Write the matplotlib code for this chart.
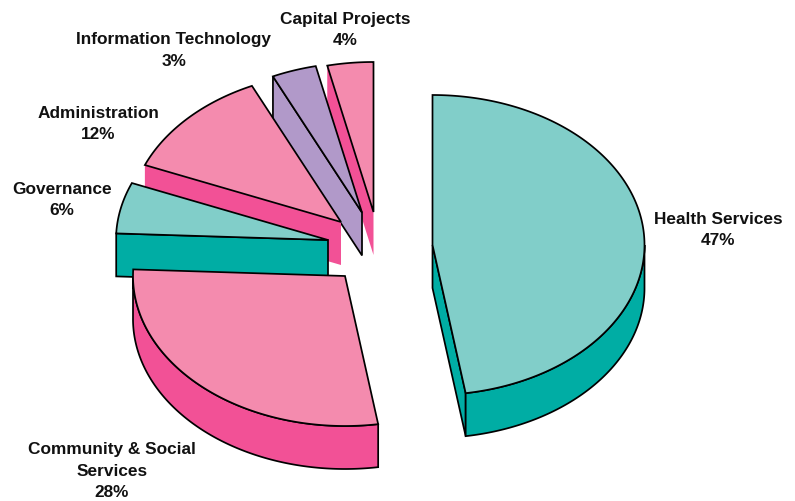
import numpy as np
import matplotlib
matplotlib.use('Agg')
import matplotlib.pyplot as plt
from matplotlib.patches import Polygon

# Slices in drawing order round the pie, clockwise from 12 o'clock
names = ['Health Services', 'Community & Social\nServices', 'Governance',
         'Administration', 'Information Technology', 'Capital Projects']
printed_pct = [47, 28, 6, 12, 3, 4]
shares = [47.5, 28.2, 5.5, 11.9, 3.4, 3.5]

TEAL = ('#81CEC9', '#00ADA4')
PINK = ('#F48BAE', '#F25196')
PURPLE = ('#B199C9', '#B199C9')
slice_colors = [TEAL, PINK, TEAL, PINK, PURPLE, PINK]

# exploded apex of each slice, in pixels
apex_x = [432.5, 345, 328, 341, 362, 373.5]
apex_y = [245, 276, 240, 222, 212.5, 212]
# pink walls of admin and capital projects have no outline in the original
wall_outline = [True, True, True, False, True, False]

label_x = [718, 112, 62, 98, 174, 345]
label_y = [230, 471, 200, 124, 50.5, 30]

RX, RY, DEPTH = 212, 150, 43
LW = 1.25

fig = plt.figure(figsize=(7.95, 5.01), dpi=100)
ax = fig.add_axes([0, 0, 1, 1])
ax.set_xlim(0, 795)
ax.set_ylim(501, 0)
ax.axis('off')


def rim(cx, cy, t0, t1):
    t = np.radians(np.linspace(t0, t1, 200))
    return np.column_stack([cx + RX * np.sin(t), cy - RY * np.cos(t)])


def draw_wall(pts, fill, outline, z):
    pts = np.asarray(pts)
    low = pts[::-1] + [0, DEPTH]
    ax.add_patch(Polygon(np.vstack([pts, low]), closed=True, facecolor=fill,
                         edgecolor='black' if outline else fill,
                         lw=LW if outline else 0, joinstyle='miter', zorder=z))


edges = np.concatenate([[0], np.cumsum(shares)]) / sum(shares) * 360

# back slices first, so the front ones paint over them
for z, i in enumerate([5, 4, 3, 2, 1, 0]):
    cx, cy = apex_x[i], apex_y[i]
    top, side = slice_colors[i]
    t0, t1 = edges[i], edges[i + 1]
    arc = rim(cx, cy, t0, t1)
    apex = np.array([cx, cy])

    # cut faces: only the ones turned towards the viewer show
    if np.sin(np.radians(t0)) < -0.01:
        draw_wall([apex, arc[0]], side, wall_outline[i], z * 3)
    if np.sin(np.radians(t1)) > 0.01:
        draw_wall([arc[-1], apex], side, wall_outline[i], z * 3)

    # outer rim wall for the front half of the ellipse
    lo, hi = max(t0, 90), min(t1, 270)
    if hi > lo:
        draw_wall(rim(cx, cy, lo, hi), side, wall_outline[i], z * 3 + 1)

    ax.add_patch(Polygon(np.vstack([apex, arc]), closed=True, facecolor=top,
                         edgecolor='black', lw=LW, joinstyle='miter', zorder=z * 3 + 2))

for name, pct, x, y in zip(names, printed_pct, label_x, label_y):
    ax.text(x, y, f'{name}\n{pct}%', ha='center', va='center', fontsize=12.4,
            fontweight='bold', family='Liberation Sans', linespacing=1.53,
            color='#111111', zorder=40)

fig.savefig('out.png', dpi=100)
